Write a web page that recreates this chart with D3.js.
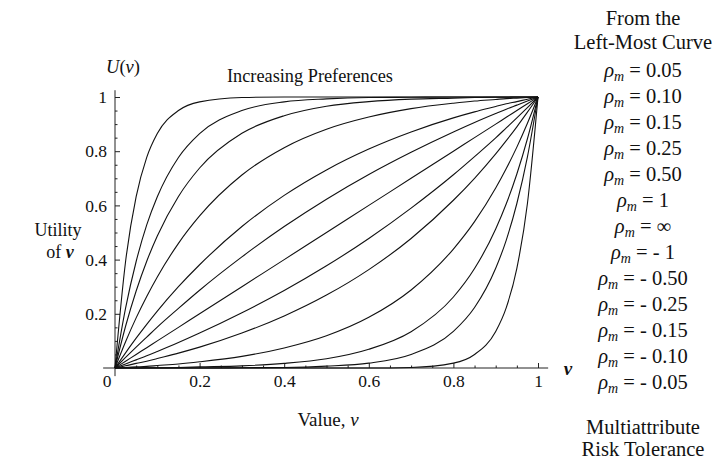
<!DOCTYPE html>
<html>
<head>
<meta charset="utf-8">
<script src="https://cdn.jsdelivr.net/npm/d3@7"></script>
<style>
  body { margin: 0; background: #fff; }
  svg text { font-family: "Liberation Serif", "DejaVu Serif", serif; fill: #111; }
</style>
</head>
<body>
<div id="chart"></div>
<script>
const vGrid = [0, 0.025, 0.05, 0.075, 0.1, 0.15, 0.2, 0.3, 0.4, 0.5, 0.6, 0.7, 0.8, 0.85, 0.9, 0.925, 0.95, 0.975, 1];

// U(v) for each curve, left-most first
const uP005 = [0, 0.393, 0.632, 0.777, 0.865, 0.950, 0.982, 0.998, 1, 1, 1, 1, 1, 1, 1, 1, 1, 1, 1];
const uP010 = [0, 0.221, 0.393, 0.528, 0.632, 0.777, 0.865, 0.950, 0.982, 0.993, 0.998, 0.999, 1, 1, 1, 1, 1, 1, 1];
const uP015 = [0, 0.154, 0.284, 0.394, 0.487, 0.633, 0.738, 0.866, 0.931, 0.966, 0.983, 0.992, 0.996, 0.998, 0.999, 0.999, 1, 1, 1];
const uP025 = [0, 0.097, 0.185, 0.264, 0.336, 0.460, 0.561, 0.712, 0.813, 0.881, 0.926, 0.957, 0.977, 0.985, 0.991, 0.994, 0.996, 0.998, 1];
const uP050 = [0, 0.056, 0.110, 0.161, 0.210, 0.300, 0.381, 0.522, 0.637, 0.731, 0.808, 0.871, 0.923, 0.945, 0.965, 0.975, 0.983, 0.992, 1];
const uP1   = [0, 0.039, 0.077, 0.114, 0.151, 0.220, 0.287, 0.410, 0.522, 0.623, 0.714, 0.796, 0.871, 0.906, 0.939, 0.955, 0.970, 0.985, 1];
const uInf  = [0, 0.025, 0.05, 0.075, 0.1, 0.15, 0.2, 0.3, 0.4, 0.5, 0.6, 0.7, 0.8, 0.85, 0.9, 0.925, 0.95, 0.975, 1];
const uM1   = [0, 0.015, 0.030, 0.045, 0.061, 0.094, 0.129, 0.204, 0.286, 0.377, 0.478, 0.590, 0.713, 0.780, 0.849, 0.886, 0.923, 0.961, 1];
const uM050 = [0, 0.008, 0.017, 0.025, 0.035, 0.055, 0.077, 0.129, 0.192, 0.269, 0.363, 0.478, 0.619, 0.700, 0.790, 0.839, 0.890, 0.944, 1];
const uM025 = [0, 0.002, 0.004, 0.006, 0.009, 0.015, 0.023, 0.043, 0.074, 0.119, 0.187, 0.288, 0.439, 0.540, 0.664, 0.736, 0.815, 0.903, 1];
const uM015 = [0, 0, 0, 0.001, 0.001, 0.002, 0.004, 0.008, 0.017, 0.034, 0.069, 0.134, 0.262, 0.367, 0.513, 0.606, 0.716, 0.846, 1];
const uM010 = [0, 0, 0, 0, 0, 0, 0, 0.001, 0.002, 0.007, 0.018, 0.050, 0.135, 0.223, 0.368, 0.472, 0.607, 0.779, 1];
const uM005 = [0, 0, 0, 0, 0, 0, 0, 0, 0, 0, 0, 0.002, 0.018, 0.050, 0.135, 0.223, 0.368, 0.607, 1];

const curves = [uP005, uP010, uP015, uP025, uP050, uP1, uInf, uM1, uM050, uM025, uM015, uM010, uM005];

// legend text, same order as the curves
const rhoLabels = ["0.05", "0.10", "0.15", "0.25", "0.50", "1", "\u221E", "- 1", "- 0.50", "- 0.25", "- 0.15", "- 0.10", "- 0.05"];

// tick values
const majorTicks = [0.2, 0.4, 0.6, 0.8, 1];
const minorTicks = [0.05, 0.1, 0.15, 0.25, 0.3, 0.35, 0.45, 0.5, 0.55, 0.65, 0.7, 0.75, 0.85, 0.9, 0.95];

const W = 719, H = 462;
const svg = d3.select("#chart").append("svg")
  .attr("width", W).attr("height", H);

const x = d3.scaleLinear().domain([0, 1]).range([115, 538]);
const y = d3.scaleLinear().domain([0, 1]).range([368, 97]);

// x axis (ticks point inward)
const xAxis = svg.append("g").attr("transform", `translate(0,${y(0)})`);
xAxis.call(d3.axisBottom(x).tickValues(majorTicks).tickSize(-5).tickSizeOuter(0).tickPadding(7)
  .tickFormat(d3.format("")));
xAxis.select(".domain").attr("d", `M${x(-0.028)},0H${x(1.024)}`);
svg.append("g").attr("transform", `translate(0,${y(0)})`)
  .call(d3.axisBottom(x).tickValues(minorTicks).tickSize(-2.5).tickSizeOuter(0).tickFormat(""))
  .select(".domain").remove();

// y axis
const yAxis = svg.append("g").attr("transform", `translate(${x(0)},0)`);
yAxis.call(d3.axisLeft(y).tickValues(majorTicks).tickSize(-5).tickSizeOuter(0).tickPadding(8)
  .tickFormat(d3.format("")));
yAxis.select(".domain").attr("d", `M0,${y(-0.03)}V${y(1.025)}`);
svg.append("g").attr("transform", `translate(${x(0)},0)`)
  .call(d3.axisLeft(y).tickValues(minorTicks).tickSize(-2.5).tickSizeOuter(0).tickFormat(""))
  .select(".domain").remove();

svg.selectAll(".domain, .tick line").attr("stroke", "#222").attr("stroke-width", 1);
svg.selectAll(".tick text").attr("font-size", 17.5).attr("font-family", "Liberation Serif").attr("fill", "#111");

// origin label
svg.append("text").attr("x", x(0) - 8).attr("y", y(0) + 19)
  .attr("text-anchor", "middle").attr("font-size", 17.5).text("0");

// curves
const line = d3.line()
  .x((d, i) => x(vGrid[i]))
  .y(d => y(d))
  .curve(d3.curveMonotoneX);

svg.append("g").selectAll("path")
  .data(curves)
  .join("path")
  .attr("d", line)
  .attr("fill", "none")
  .attr("stroke", "#111")
  .attr("stroke-width", 1.1);

// titles and axis labels
svg.append("text").attr("x", 310).attr("y", 82).attr("text-anchor", "middle")
  .attr("font-size", 18.3).text("Increasing Preferences");

const uLab = svg.append("text").attr("x", 123).attr("y", 73).attr("text-anchor", "middle").attr("font-size", 18.5);
uLab.append("tspan").attr("font-style", "italic").text("U");
uLab.append("tspan").text("(");
uLab.append("tspan").attr("font-style", "italic").text("v");
uLab.append("tspan").text(")");

svg.append("text").attr("x", 58).attr("y", 236).attr("text-anchor", "middle")
  .attr("font-size", 18).text("Utility");
const ofV = svg.append("text").attr("x", 60).attr("y", 258).attr("text-anchor", "middle").attr("font-size", 18);
ofV.append("tspan").text("of ");
ofV.append("tspan").attr("font-style", "italic").attr("font-weight", "bold").text("v");

const valLab = svg.append("text").attr("x", 328).attr("y", 426).attr("text-anchor", "middle").attr("font-size", 19);
valLab.append("tspan").text("Value, ");
valLab.append("tspan").attr("font-style", "italic").text("v");

svg.append("text").attr("x", 568).attr("y", 375).attr("text-anchor", "middle")
  .attr("font-size", 19).attr("font-style", "italic").attr("font-weight", "bold").text("v");

// legend column
const lx = 643;
const lfs = 20.5;
svg.append("text").attr("x", lx).attr("y", 25).attr("text-anchor", "middle").attr("font-size", lfs).text("From the");
svg.append("text").attr("x", lx).attr("y", 49).attr("text-anchor", "middle").attr("font-size", lfs).text("Left-Most Curve");

const rho = svg.append("g").selectAll("text")
  .data(rhoLabels)
  .join("text")
  .attr("x", lx)
  .attr("y", (d, i) => 77 + i * 26)
  .attr("text-anchor", "middle")
  .attr("font-size", lfs);
rho.append("tspan").attr("font-style", "italic").text("\u03C1");
rho.append("tspan").attr("font-style", "italic").attr("font-size", 14).attr("dy", 4).text("m");
rho.append("tspan").attr("dy", -4).text(d => " = " + d);

svg.append("text").attr("x", lx).attr("y", 434).attr("text-anchor", "middle").attr("font-size", lfs).text("Multiattribute");
svg.append("text").attr("x", lx).attr("y", 456).attr("text-anchor", "middle").attr("font-size", lfs).text("Risk Tolerance");
</script>
</body>
</html>
